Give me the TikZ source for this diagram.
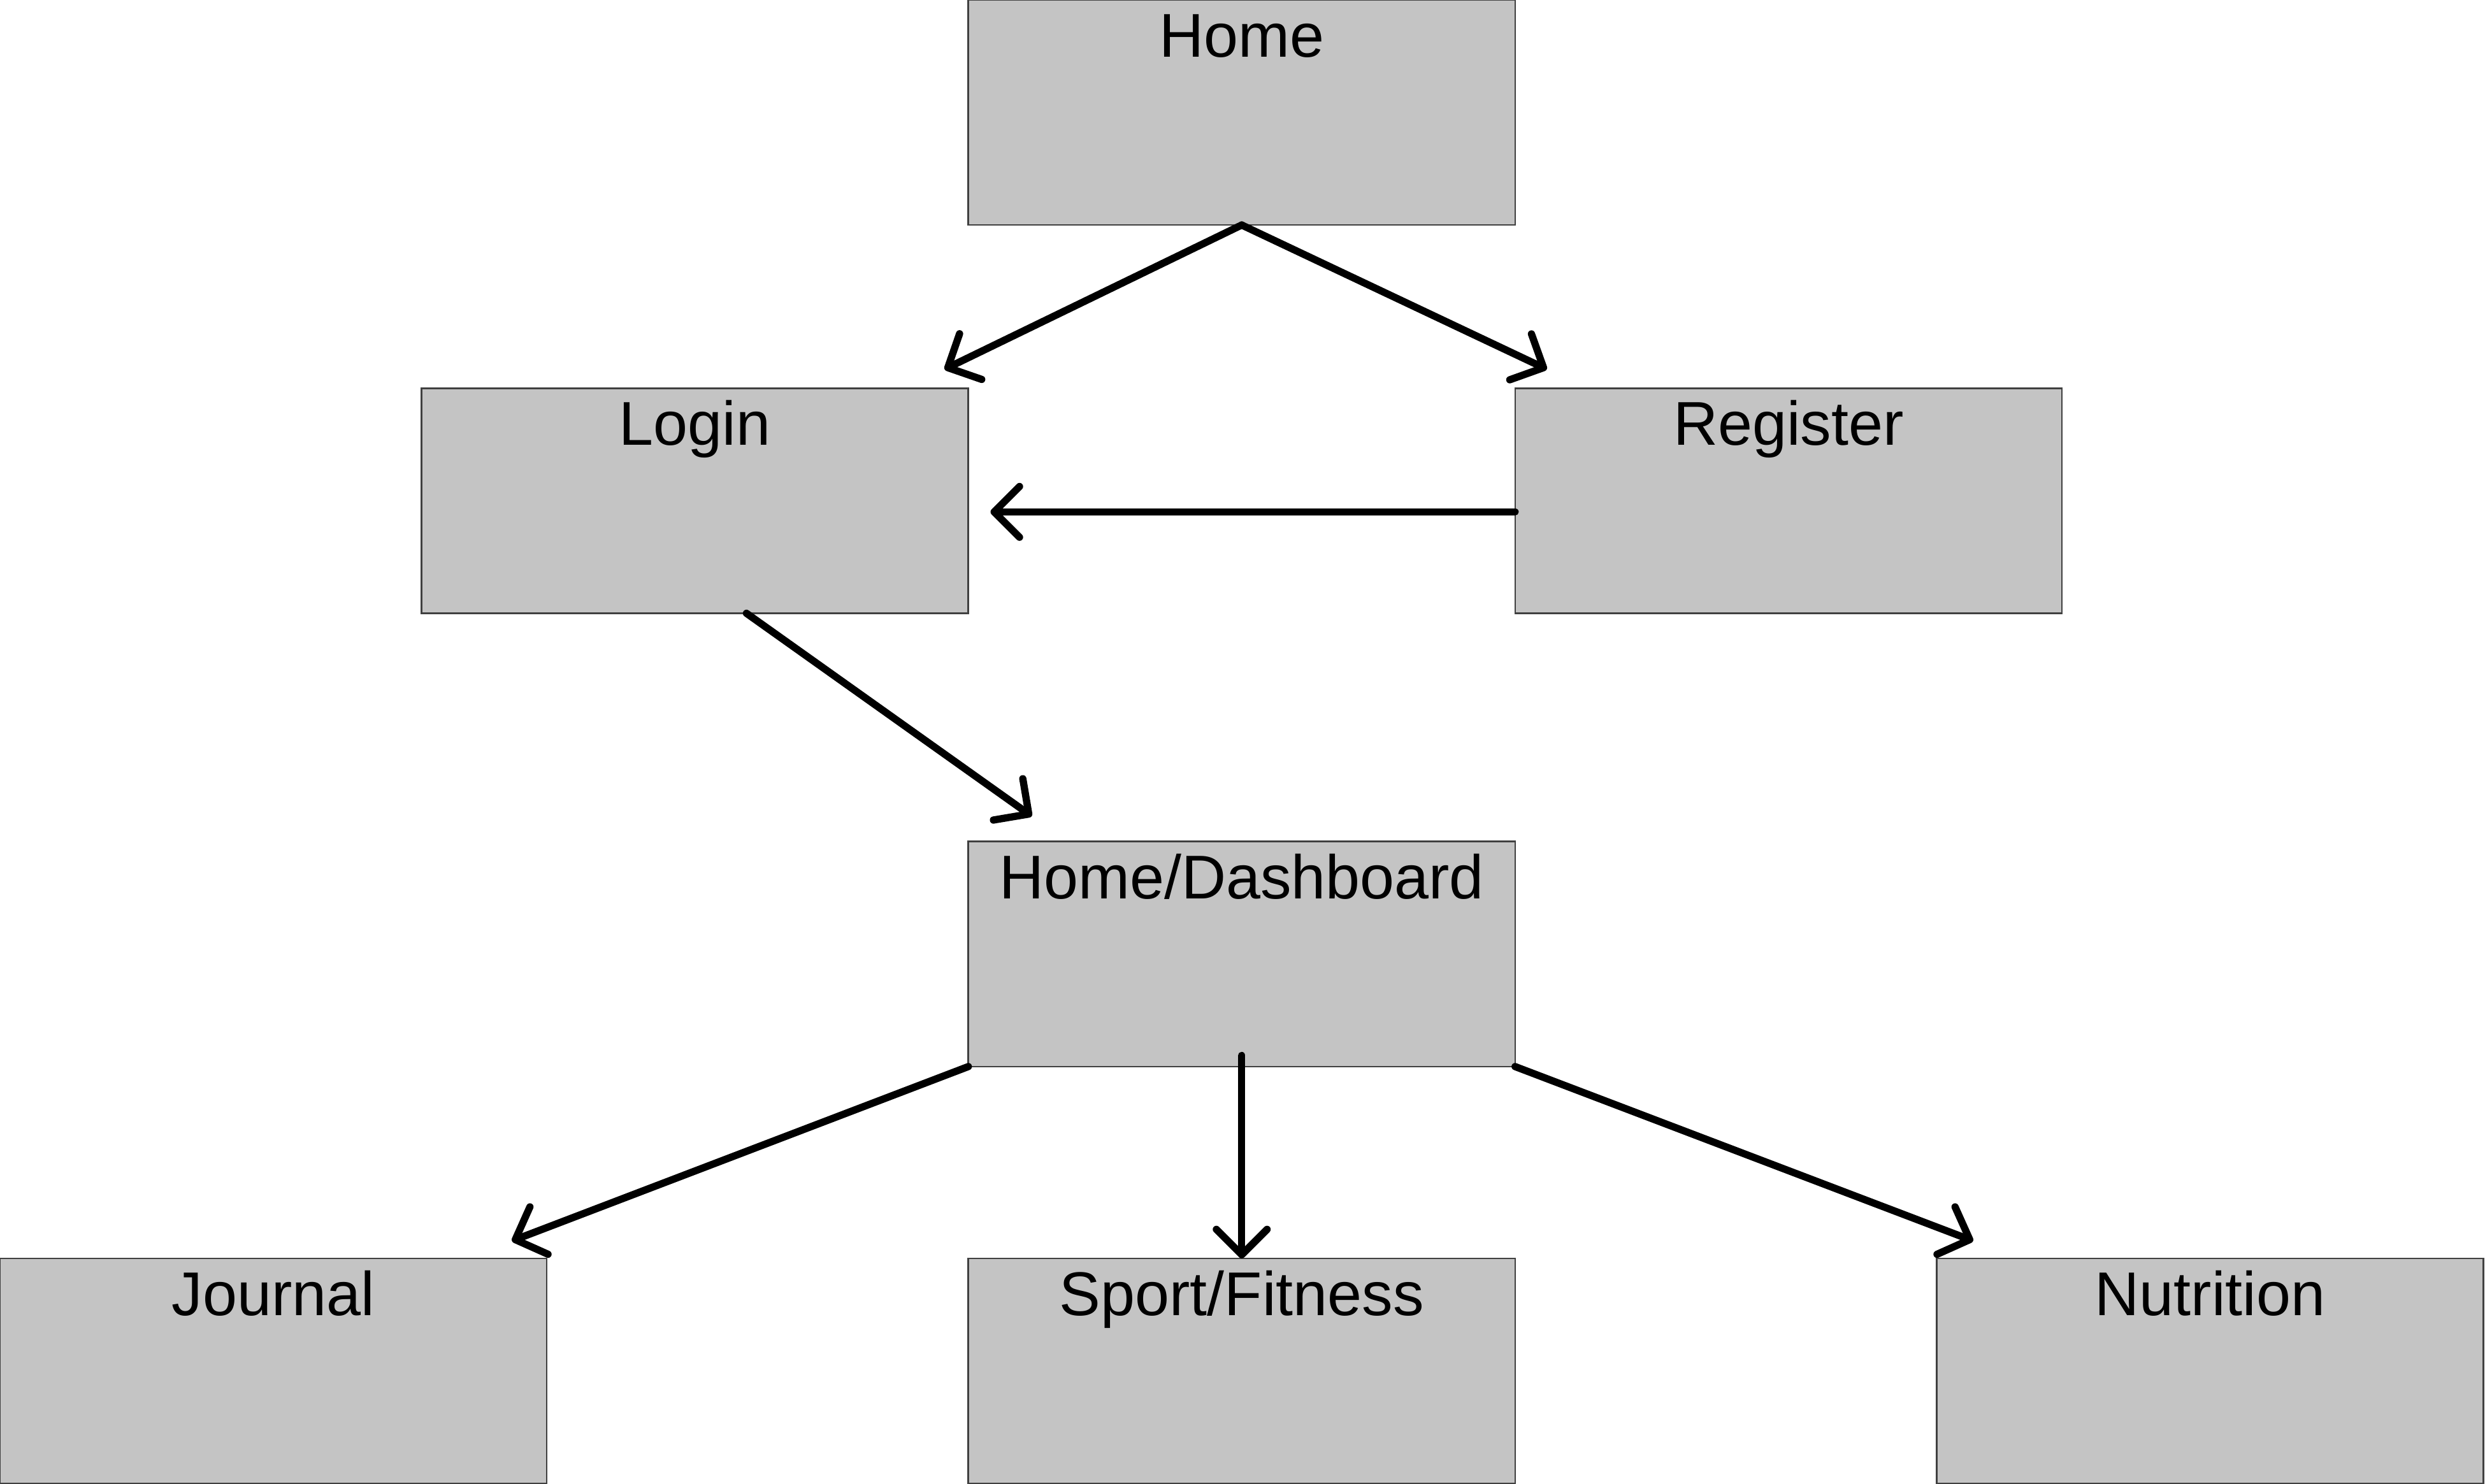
\documentclass[tikz,border=0pt]{standalone}
\usepackage{fontspec}
\setmainfont{Liberation Sans}
\usetikzlibrary{arrows.meta, positioning}
\definecolor{boxgray}{HTML}{C4C4C4}
\tikzset{
  page/.style={rectangle, draw=black!75, line width=0.3pt, fill=boxgray, inner sep=0pt, outer sep=0pt,
    minimum width=34.5mm, text height=3.6mm, text depth=10.6mm, align=center,
    font=\fontsize{11.1}{13}\selectfont},
  link/.style={-{Straight Barb[length=1.6mm, width=3.2mm, round]}, line width=1.3pt, line cap=round},
}
\begin{document}
\begin{tikzpicture}
  \useasboundingbox (0,0) rectangle (15.68,9.36);

  \node[page] (home) at (7.835,8.65) {Home};
  \node[page, below left=10.3mm and 0mm of home] (login) {Login};
  \node[page, below right=10.3mm and 0mm of home] (register) {Register};
  \node[page, below=38.9mm of home] (dash) {Home/Dashboard};
  \node[page, below=12.1mm of dash] (sport) {Sport/Fitness};
  \node[page, left=26.6mm of sport] (journal) {Journal};
  \node[page, right=26.6mm of sport] (nutrition) {Nutrition};

  \draw[link] (home.south) -- ([xshift=-1.5mm, yshift=1.2mm]login.north east);
  \draw[link] (home.south) -- ([xshift=2mm, yshift=1.2mm]register.north west);
  \draw[link] ([yshift=-0.7mm]register.west) -- ([xshift=1.4mm, yshift=-0.7mm]login.east);
  \draw[link] ([xshift=3.25mm]login.south) -- ([xshift=4mm, yshift=1.6mm]dash.north west);

  \draw[link] (dash.south west) -- ([xshift=-2.2mm, yshift=1.1mm]journal.north east);
  \draw[link] ([yshift=0.7mm]dash.south) -- (sport.north);
  \draw[link] (dash.south east) -- ([xshift=2.3mm, yshift=1.1mm]nutrition.north west);
\end{tikzpicture}
\end{document}
